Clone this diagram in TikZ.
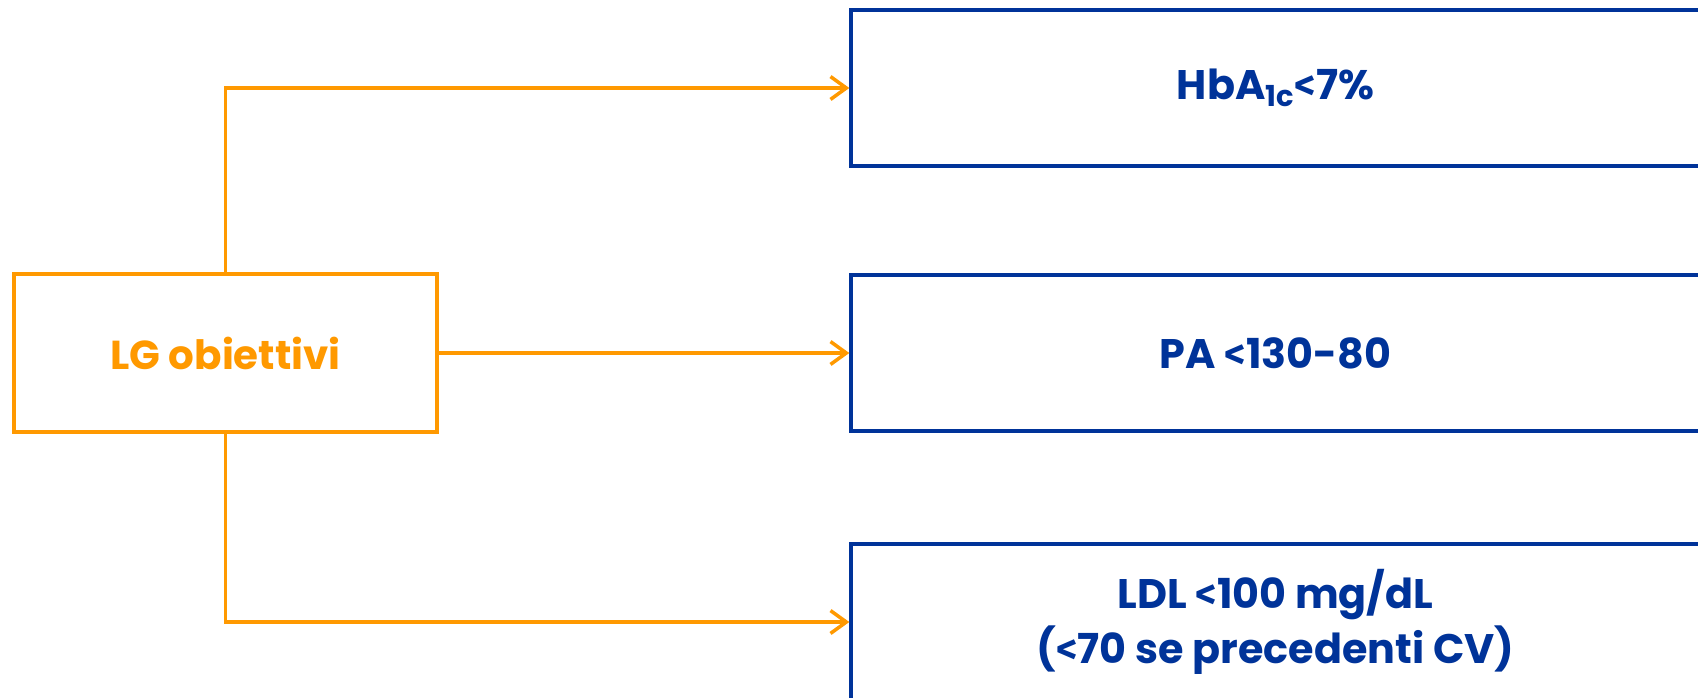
\documentclass[tikz,border=0pt]{standalone}
\usepackage{fontspec}
\newfontfamily\gothic{Poppins}
\newfontfamily\symfont{Fira Sans}
\newcommand\lessthan{{\symfont <}}
\definecolor{lgorange}{RGB}{255,153,0}
\definecolor{lgblue}{RGB}{0,51,153}
\usetikzlibrary{arrows.meta, positioning}

\begin{document}
\begin{tikzpicture}[x=0.02cm, y=-0.02cm,
	goal/.style={draw=lgblue, line width=2pt, minimum width=16.98cm, minimum height=3.12cm, align=center, text=lgblue, font=\gothic\bfseries\fontsize{23.5}{31}\selectfont},
	link/.style={draw=lgorange, line width=2pt, -{Straight Barb[length=9pt, width=13pt, line width=2pt]}}]
	\clip (0,0) rectangle (1698,697);
	\node[draw=lgorange, line width=2pt, minimum width=8.46cm, minimum height=3.16cm, text=lgorange, font=\gothic\bfseries\fontsize{23}{26}\selectfont] at (225.5,353) (lg) {LG obiettivi};
	\node[goal] at (1275.5,88) (hba) {HbA\textsubscript{1c}\lessthan7\%};
	\node[goal] at (1275.5,353) (pa) {PA \lessthan130-80};
	\node[goal] at (1275.5,622) (ldl) {LDL \lessthan100 mg/dL\\(\lessthan70 se precedenti CV)};
	\draw[link] (lg.north) |- (hba.west);
	\draw[link] (lg) -- (pa);
	\draw[link] (lg.south) |- (ldl.west);
\end{tikzpicture}
\end{document}
